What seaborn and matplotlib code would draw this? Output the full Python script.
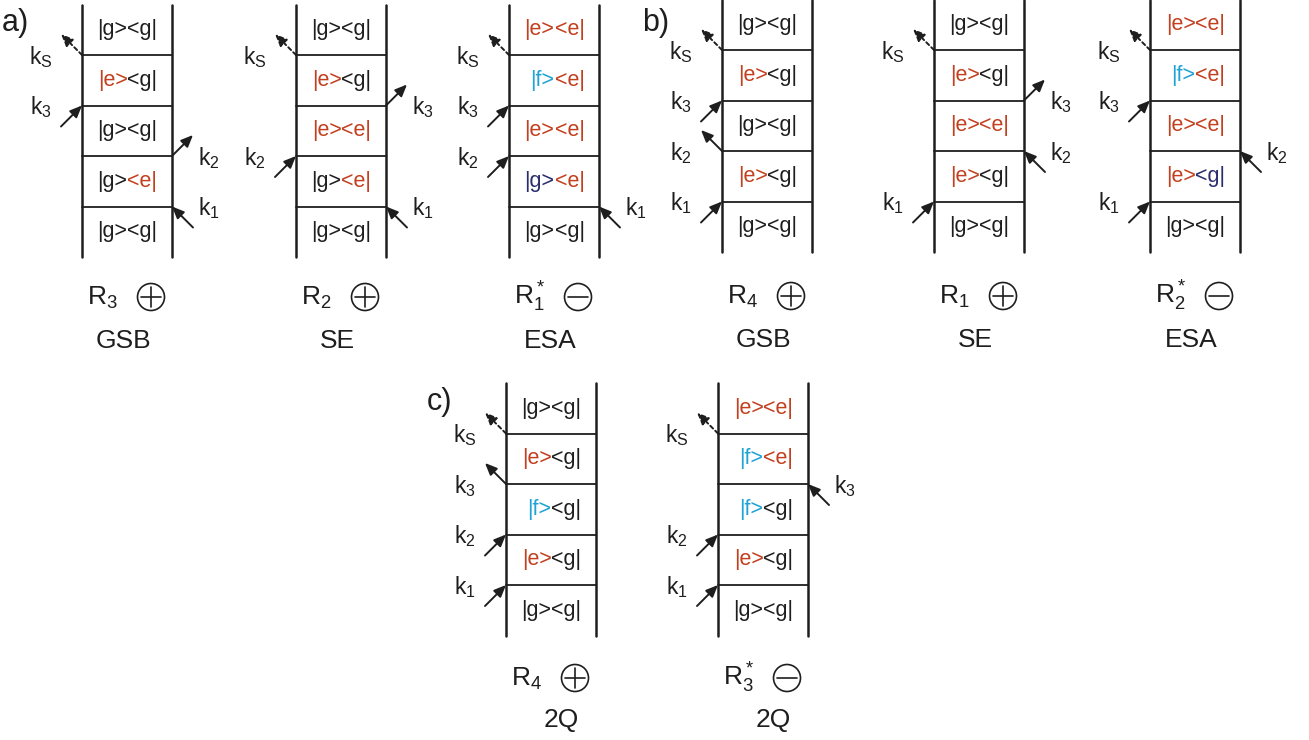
import matplotlib
matplotlib.use("Agg")
import matplotlib.pyplot as plt
from matplotlib.patches import Circle
import pandas as pd
import seaborn as sns

# ---------------------------------------------------------------------------
# Diagram content
# States along each ladder, bottom to top, as (ket, bra).
# 'G' is a ground-state label that is drawn in dark blue.
# Field interactions: (subscript, rung from bottom, side, direction)
# ---------------------------------------------------------------------------
states_R3_gsb = [("g", "g"), ("g", "e"), ("g", "g"), ("e", "g"), ("g", "g")]
fields_R3_gsb = [("1", 1, "R", "in"), ("2", 2, "R", "out"), ("3", 3, "L", "in"), ("S", 4, "L", "out")]

states_R2_se = [("g", "g"), ("g", "e"), ("e", "e"), ("e", "g"), ("g", "g")]
fields_R2_se = [("1", 1, "R", "in"), ("2", 2, "L", "in"), ("3", 3, "R", "out"), ("S", 4, "L", "out")]

states_R1s_esa = [("g", "g"), ("G", "e"), ("e", "e"), ("f", "e"), ("e", "e")]
fields_R1s_esa = [("1", 1, "R", "in"), ("2", 2, "L", "in"), ("3", 3, "L", "in"), ("S", 4, "L", "out")]

states_R4_gsb = [("g", "g"), ("e", "g"), ("g", "g"), ("e", "g"), ("g", "g")]
fields_R4_gsb = [("1", 1, "L", "in"), ("2", 2, "L", "out"), ("3", 3, "L", "in"), ("S", 4, "L", "out")]

states_R1_se = [("g", "g"), ("e", "g"), ("e", "e"), ("e", "g"), ("g", "g")]
fields_R1_se = [("1", 1, "L", "in"), ("2", 2, "R", "in"), ("3", 3, "R", "out"), ("S", 4, "L", "out")]

states_R2s_esa = [("g", "g"), ("e", "G"), ("e", "e"), ("f", "e"), ("e", "e")]
fields_R2s_esa = [("1", 1, "L", "in"), ("2", 2, "R", "in"), ("3", 3, "L", "in"), ("S", 4, "L", "out")]

states_R4_2q = [("g", "g"), ("e", "g"), ("f", "g"), ("e", "g"), ("g", "g")]
fields_R4_2q = [("1", 1, "L", "in"), ("2", 2, "L", "in"), ("3", 3, "L", "out"), ("S", 4, "L", "out")]

states_R3s_2q = [("g", "g"), ("e", "g"), ("f", "g"), ("f", "e"), ("e", "e")]
fields_R3s_2q = [("1", 1, "L", "in"), ("2", 2, "L", "in"), ("3", 3, "R", "in"), ("S", 4, "L", "out")]

# pathway name, sign of the response, signal type
pathway_names = ["R$_3$", "R$_2$", "R$_1^*$", "R$_4$", "R$_1$", "R$_2^*$", "R$_4$", "R$_3^*$"]
pathway_signs = ["+", "+", "-", "+", "+", "-", "+", "-"]
pathway_kinds = ["GSB", "SE", "ESA", "GSB", "SE", "ESA", "2Q", "2Q"]
pathway_panel = ["a", "a", "a", "b", "b", "b", "c", "c"]

all_states = [states_R3_gsb, states_R2_se, states_R1s_esa,
              states_R4_gsb, states_R1_se, states_R2s_esa,
              states_R4_2q, states_R3s_2q]
all_fields = [fields_R3_gsb, fields_R2_se, fields_R1s_esa,
              fields_R4_gsb, fields_R1_se, fields_R2s_esa,
              fields_R4_2q, fields_R3s_2q]

# ---------------------------------------------------------------------------
# Layout (pixel units, y downward)
# ---------------------------------------------------------------------------
W, H = 1309, 740
LADDER_W = 90.0
CELL_H = 50.5
diagram_left = [82, 296, 509, 722, 934, 1150, 506, 718]
panel_top = {"a": 4.5, "b": -0.5, "c": 383.0}
panel_name_row = {"a": 305, "b": 304, "c": 686}
panel_kind_row = {"a": 348, "b": 347, "c": 727}
panel_kind_dx = {"a": -4, "b": -4, "c": 10}
panel_tag = {"a": ("a)", 2, 31), "b": ("b)", 642, 31), "c": ("c)", 427, 410)}

INK = "#1e1e1e"
LEVEL_COLORS = {"g": INK, "e": "#c2401f", "f": "#1ea3d4", "G": "#2a2d6e"}

sns.set_theme(style="white")
plt.rcParams["font.family"] = ["Liberation Sans", "DejaVu Sans"]
plt.rcParams["mathtext.fontset"] = "custom"
plt.rcParams["mathtext.rm"] = "Liberation Sans"
plt.rcParams["mathtext.it"] = "Liberation Sans:italic"
plt.rcParams["mathtext.bf"] = "Liberation Sans:bold"

fig = plt.figure(figsize=(W / 100, H / 100), dpi=100)
ax = fig.add_axes([0, 0, 1, 1])

# ladder rails and rungs as line segments
rails, rungs = [], []
for d, left in enumerate(diagram_left):
    top = panel_top[pathway_panel[d]]
    bottom = top + 5 * CELL_H
    right = left + LADDER_W
    for side, x in (("L", left), ("R", right)):
        seg = f"{d}{side}"
        rails += [dict(x=x, y=top, seg=seg), dict(x=x, y=bottom, seg=seg)]
    for j in range(1, 5):
        y = bottom - j * CELL_H
        seg = f"{d}r{j}"
        rungs += [dict(x=left, y=y, seg=seg), dict(x=right, y=y, seg=seg)]

sns.lineplot(data=pd.DataFrame(rails), x="x", y="y", units="seg", estimator=None,
             sort=False, color=INK, lw=1.8, ax=ax, legend=False)
sns.lineplot(data=pd.DataFrame(rungs), x="x", y="y", units="seg", estimator=None,
             sort=False, color=INK, lw=1.3, ax=ax, legend=False)

STATE_FS = 15.5
K_FS = 16.5
ARM = 21.0

for d, left in enumerate(diagram_left):
    panel = pathway_panel[d]
    top = panel_top[panel]
    bottom = top + 5 * CELL_H
    right = left + LADDER_W
    cx = left + LADDER_W / 2

    # density-matrix labels in each interval
    for i, (ket, bra) in enumerate(all_states[d]):
        yc = bottom - (i + 0.5) * CELL_H
        ax.text(cx + 0.5, yc, "|" + ket.lower() + ">", ha="right", va="center",
                fontsize=STATE_FS, color=LEVEL_COLORS[ket])
        ax.text(cx + 0.5, yc, "<" + bra.lower() + "|", ha="left", va="center",
                fontsize=STATE_FS, color=LEVEL_COLORS[bra])

    # field interactions
    for sub, rung, side, direction in all_fields[d]:
        yr = bottom - rung * CELL_H
        xr = left if side == "L" else right
        sx = -1 if side == "L" else 1
        if direction == "in":
            start, end = (xr + sx * ARM, yr + ARM), (xr, yr)
        else:
            start, end = (xr, yr), (xr + sx * ARM, yr - ARM)
        dashed = sub == "S"
        ax.annotate("", xy=end, xytext=start,
                    arrowprops=dict(arrowstyle="-|>,head_length=0.65,head_width=0.28",
                                    mutation_scale=11, lw=1.4, color=INK,
                                    shrinkA=0, shrinkB=0,
                                    linestyle=(0, (2.0, 1.6)) if dashed else "-"))
        label = r"k$_\mathrm{S}$" if sub == "S" else "k$_" + sub + "$"
        lx = xr - 41 if side == "L" else xr + 37
        ax.text(lx, yr + 2, label, ha="center", va="center", fontsize=K_FS, color=INK)

    # pathway name with circled sign, and signal type
    name_y = panel_name_row[panel]
    ax.text(cx - 40, name_y, pathway_names[d], ha="left", va="baseline",
            fontsize=19, color=INK)
    ox, oy, r = cx + 24, name_y - 8, 13.5
    ax.add_patch(Circle((ox, oy), r, fill=False, lw=1.2, ec=INK))
    ax.plot([ox - 0.72 * r, ox + 0.72 * r], [oy, oy], color=INK, lw=1.2)
    if pathway_signs[d] == "+":
        ax.plot([ox, ox], [oy - 0.72 * r, oy + 0.72 * r], color=INK, lw=1.2)
    ax.text(cx + panel_kind_dx[panel], panel_kind_row[panel], pathway_kinds[d],
            ha="center", va="baseline", fontsize=19, color=INK)

for tag, (txt, x, y) in panel_tag.items():
    ax.text(x, y, txt, ha="left", va="baseline", fontsize=22, color=INK)

ax.set_xlim(0, W)
ax.set_ylim(H, 0)
ax.set_aspect("auto")
ax.axis("off")
fig.savefig("out.png", dpi=100, facecolor="white")
